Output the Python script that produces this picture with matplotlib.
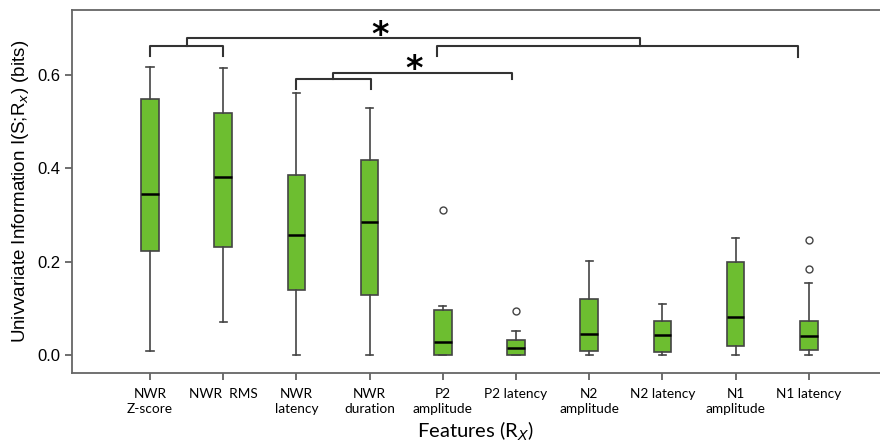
import matplotlib.pyplot as plt

labels = ["NWR\nZ-score", "NWR  RMS", "NWR\nlatency", "NWR\nduration", "P2\namplitude",
          "P2 latency", "N2\namplitude", "N2 latency", "N1\namplitude", "N1 latency"]
whis_lo = [0.009, 0.071, 0.0, 0.0, 0.0, 0.0, 0.0, 0.0, 0.0, 0.0]
q1 = [0.222, 0.232, 0.138, 0.128, 0.0, 0.0, 0.009, 0.006, 0.020, 0.010]
med = [0.344, 0.381, 0.257, 0.285, 0.028, 0.014, 0.044, 0.042, 0.082, 0.040]
q3 = [0.547, 0.518, 0.385, 0.417, 0.096, 0.032, 0.120, 0.073, 0.200, 0.072]
whis_hi = [0.616, 0.613, 0.560, 0.529, 0.105, 0.052, 0.201, 0.110, 0.251, 0.153]
outliers = [[], [], [], [], [0.310], [0.094], [], [], [], [0.185, 0.247]]

# significance brackets (x in box positions, y in bits)
pair_a = (1, 2, 0.660, 0.640)
pair_b = (4.92, 9.85, 0.660, 0.637)
link_ab = (1.5, 7.69, 0.679)
pair_c = (3, 4.02, 0.591, 0.570)
link_c = (3.5, 5.95, 0.603, 0.590)
stars = [(4.14, 0.683), (4.61, 0.611)]

green = '#6dbe30'
edge = '#444444'

fig = plt.figure(figsize=(8.8, 4.43), dpi=100)
ax = fig.add_axes([0.0818, 0.158, 0.918, 0.8194])

stats = []
for i in range(len(labels)):
    stats.append({"whislo": whis_lo[i], "q1": q1[i], "med": med[i], "q3": q3[i],
                  "whishi": whis_hi[i], "fliers": outliers[i]})

ax.bxp(stats, positions=range(1, 11), widths=0.24, patch_artist=True,
       boxprops=dict(facecolor=green, edgecolor=edge, linewidth=1.2),
       medianprops=dict(color='black', linewidth=1.8),
       whiskerprops=dict(color=edge, linewidth=1.2),
       capprops=dict(color=edge, linewidth=1.2),
       flierprops=dict(marker='o', markersize=5, markerfacecolor='white',
                       markeredgecolor=edge, markeredgewidth=1.0),
       capwidths=0.1)

lc = '#333333'
lw = 1.5
# bracket between NWR Z-score and NWR RMS
x0, x1, yt, yb = pair_a
ax.plot([x0, x0, x1, x1], [yb, yt, yt, yb], color=lc, lw=lw, clip_on=False)
x0, x1, yt, yb = pair_b
ax.plot([x0, x0, x1, x1], [yb + 0.003, yt, yt, yb], color=lc, lw=lw, clip_on=False)
x0, x1, yt = link_ab
ax.plot([x0, x0, x1, x1], [pair_a[2], yt, yt, pair_b[2]], color=lc, lw=lw, clip_on=False)
x0, x1, yt, yb = pair_c
ax.plot([x0, x0, x1, x1], [yb, yt, yt, yb], color=lc, lw=lw, clip_on=False)
x0, x1, yt, yb = link_c
ax.plot([x0, x0, x1, x1], [pair_c[2], yt, yt, yb], color=lc, lw=lw, clip_on=False)
for sx, sy in stars:
    ax.text(sx, sy, '*', fontsize=24, fontweight='bold', ha='center', va='center')

ax.set_xlim(-0.066, 10.97)
ax.set_ylim(-0.0385, 0.738)
ax.set_xticks(range(1, 11))
ax.set_xticklabels(labels, fontsize=9.8, family='Lato', linespacing=1.3)
ax.set_yticks([0.0, 0.2, 0.4, 0.6])
ax.set_yticklabels(['0.0', '0.2', '0.4', '0.6'], fontsize=12, family='Liberation Sans')
ax.tick_params(colors='#555555', length=5, width=1.2, labelcolor='black')
ax.tick_params(axis='x', pad=6)
ax.set_ylabel(r"Univvariate Information I(S;R$_x$) (bits)", fontsize=13.5,
              family='Liberation Sans', labelpad=4)
ax.set_xlabel(r"Features (R$_X$)", fontsize=14.5, family='Lato', labelpad=3)
ax.spines['right'].set_visible(False)
for s in ['left', 'bottom', 'top']:
    ax.spines[s].set_color('#666666')
    ax.spines[s].set_linewidth(1.3)

fig.savefig('out.png', dpi=100)
